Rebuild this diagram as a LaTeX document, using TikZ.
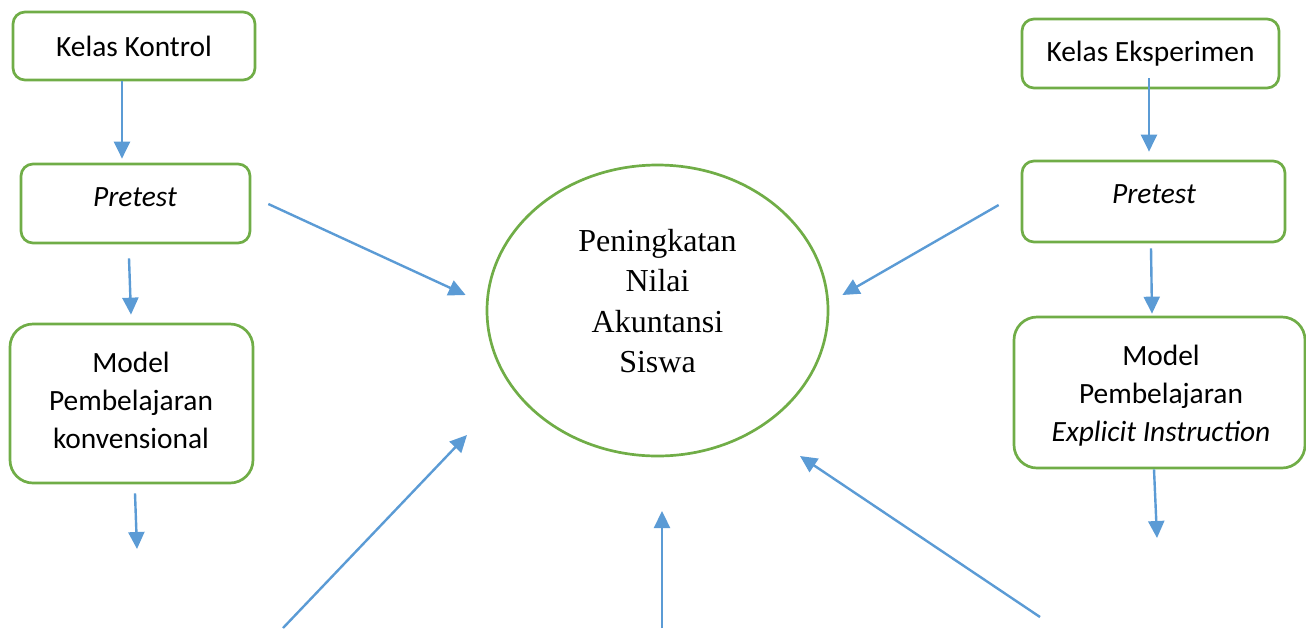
\documentclass[tikz,border=0pt]{standalone}
\usepackage{fontspec}
\setmainfont{Liberation Serif}
\newfontfamily\boxfont{Carlito}
\usetikzlibrary{arrows.meta,shapes.geometric}
\definecolor{bl}{HTML}{5B9BD5}
\definecolor{gr}{HTML}{70AD47}
\begin{document}
\begin{tikzpicture}[x=0.5pt,y=-0.5pt,
 box/.style={draw=gr, line width=1.35pt, rounded corners=6pt, inner sep=0pt},
 bigbox/.style={box, rounded corners=11.5pt},
 btxt/.style={font=\boxfont\fontsize{14.7pt}{19pt}\selectfont, align=center, inner sep=0pt},
 etxt/.style={font=\fontsize{16pt}{20.3pt}\selectfont, align=center, inner sep=0pt},
 arr/.style={draw=bl, line width=1.2pt, -{Triangle[length=8.5pt,width=8pt]}}]
\useasboundingbox (0,0) rectangle (1306,628);
% left column
\node[box, btxt, minimum width=121pt, minimum height=34pt] (KK) at (134,46) {Kelas Kontrol};
\node[box, minimum width=114.5pt, minimum height=39.5pt] (PL) at (135.5,203.5) {};
\node[btxt] (PLt) at (135,197.5) {\itshape Pretest};
\node[bigbox, minimum width=121.5pt, minimum height=79.5pt] (ML) at (131.5,403.5) {};
\node[btxt] (MLt) at (131,400.5) {Model\\Pembelajaran\\konvensional};
% right column
\node[box, btxt, minimum width=128.5pt, minimum height=34.5pt] (KE) at (1150.5,53.5) {Kelas Eksperimen};
\node[box, minimum width=131.5pt, minimum height=40.5pt] (PR) at (1153.5,201.5) {};
\node[btxt] (PRt) at (1154,194.5) {\itshape Pretest};
\node[bigbox, minimum width=145.5pt, minimum height=75.5pt] (MR) at (1159.5,392.5) {};
\node[btxt] (MRt) at (1161,395.5) {Model\\Pembelajaran\\\itshape Explicit Instruction};
% centre
\node[draw=gr, line width=1.35pt, ellipse, minimum width=170.5pt, minimum height=145.5pt, inner sep=0pt] (E) at (657.5,310.5) {};
\node[etxt] (Et) at (657.5,301) {Peningkatan\\Nilai\\Akuntansi\\Siswa};
% free ends
\coordinate (mlend) at (137,549);
\coordinate (mrend) at (1157,538);
\coordinate (b1) at (283,628);
\coordinate (b2) at (662,628);
\coordinate (b3) at (1040,617);
% connectors
\draw[arr] ([shift={(-12,0)}]KK.south) -- ([shift={(-13.5,-4)}]PL.north);
\draw[arr] ([shift={(-6.5,14)}]PL.south) -- ([shift={(-0.5,-8)}]ML.north);
\draw[arr] ([shift={(3.5,9)}]ML.south) -- (mlend);
\draw[arr] ([shift={(17,0.5)}]PL.east) -- ([shift={(-20,-15.5)}]E.west);
\draw[arr] ([shift={(-1.5,-11)}]KE.south) -- ([shift={(-4.5,-8)}]PR.north);
\draw[arr] ([shift={(-2.5,5)}]PR.south) -- ([shift={(-7.5,-2)}]MR.north);
\draw[arr] ([shift={(-5.5,0)}]MR.south) -- (mrend);
\draw[arr] ([shift={(-22,3.5)}]PR.west) -- ([shift={(13,-15.5)}]E.east);
\draw[arr] (b1) -- ([shift={(-190.5,124.5)}]E.center);
\draw[arr] (b2) -- ([shift={(4.5,200.5)}]E.center);
\draw[arr] (b3) -- ([shift={(142.5,145.5)}]E.center);
\end{tikzpicture}
\end{document}
